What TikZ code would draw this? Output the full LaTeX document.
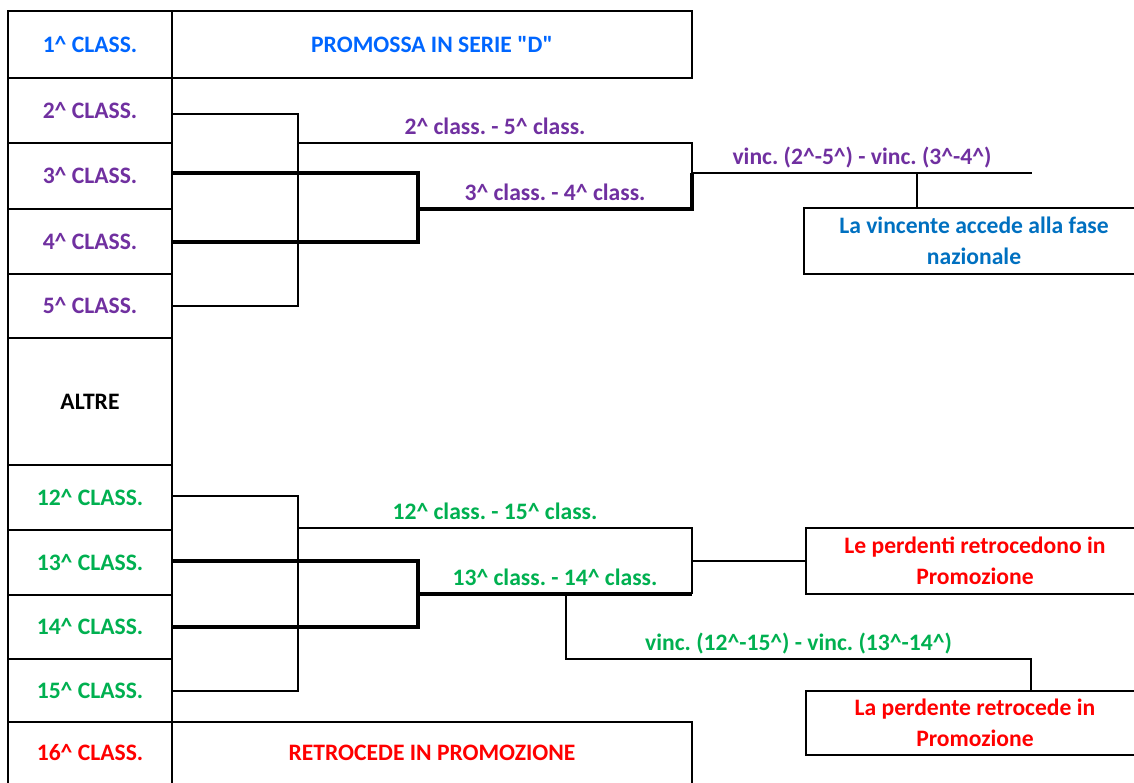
\documentclass[tikz,border=0pt]{standalone}
\usepackage{fontspec}
\setmainfont{Carlito}
\definecolor{topblue}{HTML}{0066FF}
\definecolor{natblue}{HTML}{0070C0}
\definecolor{playoff}{HTML}{7030A0}
\definecolor{playout}{HTML}{00B050}
\definecolor{down}{HTML}{FF0000}
\newcommand{\crt}{\textasciicircum}
\frenchspacing

\begin{document}
\begin{tikzpicture}[
        x=1pt, y=-1pt,
        cell/.style={draw, line width=2.5pt, minimum width=164pt, minimum height=#1,
            inner sep=0pt, align=center, font=\bfseries\fontsize{23.6}{31}\selectfont},
        lbl/.style={anchor=base, yshift=9pt, inner sep=0pt, font=\bfseries\fontsize{23.6}{31}\selectfont},
        wire/.style={line width=2.2pt},
        thickwire/.style={line width=4pt}
    ]
        \useasboundingbox (0,0) rectangle (1134,782);
        \clip (0,0) rectangle (1134,782);

        % Left column
        \node[cell=67, text=topblue] (c1) at (90,44.5) {1\crt{} CLASS.};
        \node[cell=65, text=playoff] (c2) at (90,110.5) {2\crt{} CLASS.};
        \node[cell=66, text=playoff] (c3) at (90,176) {3\crt{} CLASS.};
        \node[cell=65, text=playoff] (c4) at (90,241.5) {4\crt{} CLASS.};
        \node[cell=64, text=playoff] (c5) at (90,306) {5\crt{} CLASS.};
        \node[cell=127] (alt) at (90,401.5) {ALTRE};
        \node[cell=65, text=playout] (c12) at (90,497.5) {12\crt{} CLASS.};
        \node[cell=65, text=playout] (c13) at (90,562.5) {13\crt{} CLASS.};
        \node[cell=64, text=playout] (c14) at (90,627) {14\crt{} CLASS.};
        \node[cell=63, text=playout] (c15) at (90,690.5) {15\crt{} CLASS.};
        \node[cell=62, text=down] (c16) at (90,753) {16\crt{} CLASS.};

        % Outcome boxes
        \node[cell=67, minimum width=520pt, text=topblue] (promo) at (432,44.5) {PROMOSSA IN SERIE \textquotedbl D\textquotedbl};
        \node[cell=62, minimum width=520pt, text=down] (retro) at (432,753) {RETROCEDE IN PROMOZIONE};
        \node[cell=66, minimum width=340pt, text=natblue] (naz) at (974,241) {La vincente accede alla fase\\nazionale};
        \node[cell=66, minimum width=338pt, text=down] (perd) at (975,561) {Le perdenti retrocedono in\\Promozione};
        \node[cell=64, minimum width=338pt, text=down] (perd1) at (975,723) {La perdente retrocede in\\Promozione};

        % Play-off bracket
        \coordinate (a2) at (172,114);
        \coordinate (a3) at (172,173);
        \coordinate (a4) at (172,242);
        \coordinate (a5) at (172,306);
        \coordinate (m25) at (298,143);
        \coordinate (m34) at (418,209);
        \coordinate (r25) at (692,143);
        \coordinate (r34) at (692,209);
        \coordinate (fin) at (692,173);
        \coordinate (finend) at (1032,173);
        \coordinate (drop) at (917,173);

        \draw[wire] (a2) -| (m25) |- (a5);
        \draw[wire] (m25) -- node[lbl, text=playoff] {2\crt{} class. - 5\crt{} class.} (r25) -- (fin);
        \draw[thickwire] (a3) -| (m34) |- (a4);
        \draw[thickwire] (m34) -- node[lbl, text=playoff] {3\crt{} class. - 4\crt{} class.} (r34) -- (fin);
        \draw[wire] (fin) -- node[lbl, text=playoff] {vinc. (2\crt-5\crt) - vinc. (3\crt-4\crt)} (finend);
        \draw[wire] (drop) -- (drop |- naz.north);

        % Play-out bracket
        \coordinate (a12) at (172,496);
        \coordinate (a13) at (172,561);
        \coordinate (a14) at (172,627);
        \coordinate (a15) at (172,691);
        \coordinate (m1215) at (298,528);
        \coordinate (m1314) at (418,594);
        \coordinate (r1215) at (692,528);
        \coordinate (r1314) at (692,594);
        \coordinate (out) at (692,561);
        \coordinate (lose) at (566,594);
        \coordinate (lose2) at (1031,659);

        \draw[wire] (a12) -| (m1215) |- (a15);
        \draw[wire] (m1215) -- node[lbl, text=playout] {12\crt{} class. - 15\crt{} class.} (r1215) -- (r1314);
        \draw[thickwire] (a13) -| (m1314) |- (a14);
        \draw[thickwire] (m1314) -- node[lbl, text=playout] {13\crt{} class. - 14\crt{} class.} (r1314);
        \draw[wire] (out) -- (perd.west);
        \draw[wire] (lose) |- node[lbl, pos=0.75, text=playout] {vinc. (12\crt-15\crt) - vinc. (13\crt-14\crt)} (lose2) -- (lose2 |- perd1.north);
    \end{tikzpicture}
\end{document}
